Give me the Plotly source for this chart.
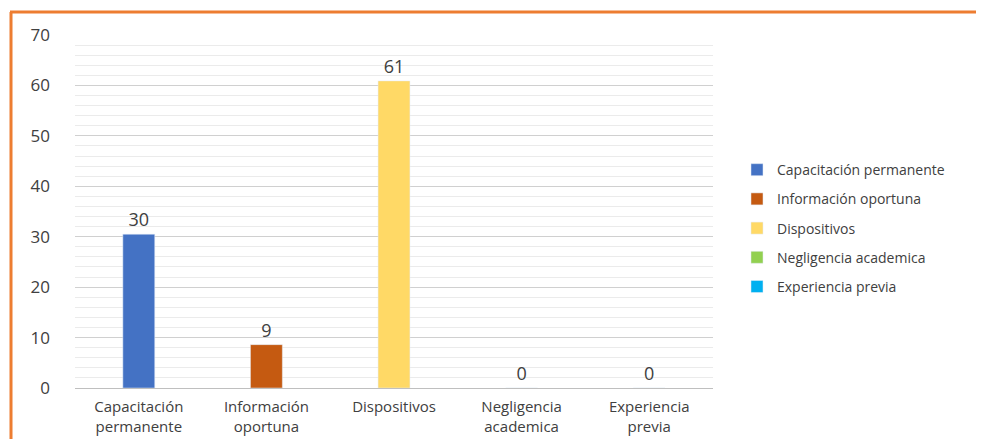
import plotly.graph_objects as go

categories = ["Capacitación permanente", "Información oportuna", "Dispositivos",
              "Negligencia academica", "Experiencia previa"]
tick_labels = ["Capacitación<br>permanente", "Información<br>oportuna", "Dispositivos",
               "Negligencia<br>academica", "Experiencia<br>previa"]
values = [30.5, 8.6, 60.9, 0, 0]
colors = ["#4472C4", "#C55A11", "#FFD966", "#92D050", "#00B0F0"]

FONT = "Open Sans"
fig = go.Figure()
for i, (cat, lab, v, c) in enumerate(zip(categories, tick_labels, values, colors)):
    fig.add_trace(go.Bar(
        x=[lab], y=[v], name=cat, marker_color=c, width=0.25,
        legendgroup=f"g{i}",
        text=[f"{v:.0f}"], textposition="outside", cliponaxis=False,
        textfont=dict(family=FONT, size=18, color="#404040"),
    ))

fig.update_layout(
    width=984, height=439,
    margin=dict(l=67, r=279, t=27, b=59),
    paper_bgcolor="white", plot_bgcolor="white",
    barmode="overlay",
    font=dict(family=FONT, color="#404040"),
    legend=dict(x=1.0376, xanchor="left", y=0.453, yanchor="middle",
                font=dict(family=FONT, size=14, color="#404040"),
                itemwidth=30,
                traceorder="grouped", tracegroupgap=8),
    xaxis=dict(tickfont=dict(family=FONT, size=15, color="#404040"),
               showline=False, ticks="", ticklabelstandoff=8),
    yaxis=dict(range=[0, 70], dtick=10, tickfont=dict(family=FONT, size=17, color="#404040"),
               gridcolor="#d0d0d0", gridwidth=1,
               zeroline=True, zerolinecolor="#bfbfbf", zerolinewidth=1,
               ticks="", ticklabelstandoff=24,
               minor=dict(dtick=2, showgrid=True, gridcolor="#ebebeb", gridwidth=1)),
    bargap=0.75,
)

W, H = 638, 353
def px(xp): return (xp - 75) / W
def py(yp): return (388 - yp) / H
border = "#ED7D31"
fig.add_shape(type="line", xref="paper", yref="paper",
              x0=px(10), x1=px(984), y0=py(12), y1=py(12),
              line=dict(color=border, width=3))
fig.add_shape(type="line", xref="paper", yref="paper",
              x0=px(11), x1=px(11), y0=py(12), y1=py(439),
              line=dict(color=border, width=3))

fig.write_html("out.html")
